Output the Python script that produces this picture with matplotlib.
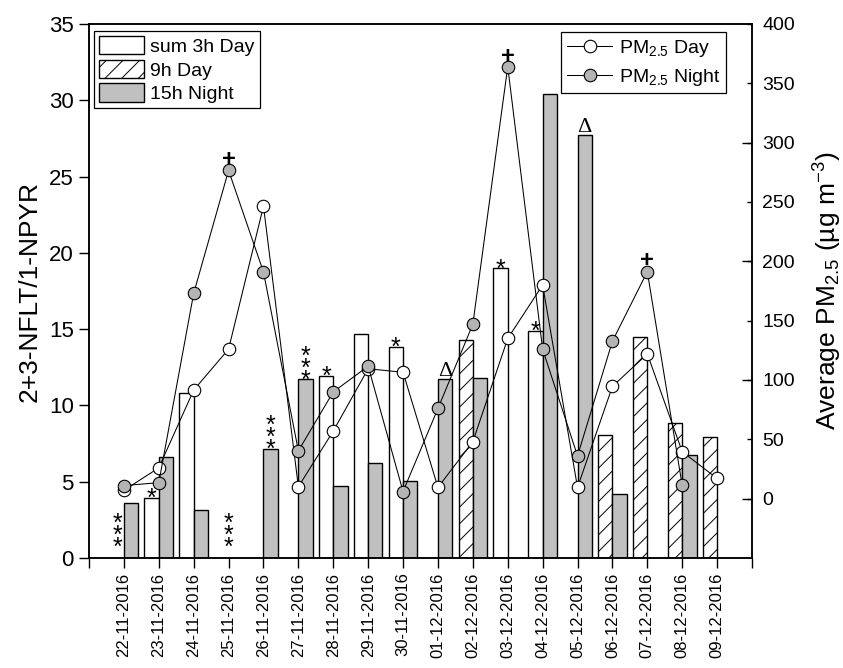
import numpy as np
import matplotlib
matplotlib.use("Agg")
import matplotlib.pyplot as plt

plt.rcParams['font.family'] = ['Liberation Sans', 'DejaVu Sans']
plt.rcParams['mathtext.fontset'] = 'custom'
plt.rcParams['mathtext.rm'] = 'Liberation Sans'
plt.rcParams['mathtext.it'] = 'Liberation Sans:italic'
plt.rcParams['mathtext.default'] = 'regular'
plt.rcParams['hatch.linewidth'] = 0.7

nan = np.nan
dates = ['22-11-2016', '23-11-2016', '24-11-2016', '25-11-2016', '26-11-2016',
         '27-11-2016', '28-11-2016', '29-11-2016', '30-11-2016', '01-12-2016',
         '02-12-2016', '03-12-2016', '04-12-2016', '05-12-2016', '06-12-2016',
         '07-12-2016', '08-12-2016', '09-12-2016']
sum3h_day = [nan, 3.93, 10.8, nan, nan, nan, 11.94, 14.7, 13.84, nan,
             nan, 19.0, 14.9, nan, nan, nan, nan, nan]
day_9h = [nan, nan, nan, nan, nan, nan, nan, nan, nan, nan,
          14.3, nan, nan, nan, 8.04, 14.47, 8.87, 7.93]
night_15h = [3.58, 6.62, 3.16, nan, 7.14, 11.7, 4.71, 6.2, 5.03, 11.7,
             11.78, nan, 30.44, 27.7, 4.2, nan, 6.77, nan]
pm_day = [7, 26, 91.5, 126, 246.5, 10, 57, 109.5, 106.5, 9.5,
          48, 135, 180, 9.5, 94.6, 122, 39.6, 17]
pm_night = [11, 13.5, 173, 276.6, 191, 40.3, 90, 111.6, 6, 76,
            147, 364, 126, 36, 132.7, 191.3, 11.1, nan]

sig3_day = ['22-11-2016', '25-11-2016']
sig3_night = ['26-11-2016', '27-11-2016']
sig1_day = ['23-11-2016', '28-11-2016', '30-11-2016', '03-12-2016', '04-12-2016']
delta_night = ['01-12-2016', '05-12-2016']
plus_pm_night = ['25-11-2016', '03-12-2016', '07-12-2016']

x = np.arange(1, len(dates) + 1)
sum3h_day = np.array(sum3h_day, float)
day_9h = np.array(day_9h, float)
night_15h = np.array(night_15h, float)
pm_day = np.array(pm_day, float)
pm_night = np.array(pm_night, float)

fig = plt.figure(figsize=(8.43, 6.68), dpi=100)
ax = fig.add_axes([89 / 843, 1 - 558 / 668, 663 / 843, 534 / 668])
ax2 = ax.twinx()

W = 0.41
grey = '#c0c0c0'
m1 = ~np.isnan(sum3h_day)
b1 = ax.bar(x[m1], sum3h_day[m1], width=-W, align='edge', color='white',
            edgecolor='black', linewidth=1.0, label='sum 3h Day')
m2 = ~np.isnan(day_9h)
b2 = ax.bar(x[m2], day_9h[m2], width=-W, align='edge', color='white',
            edgecolor='black', linewidth=1.0, hatch='//', label='9h Day')
m3 = ~np.isnan(night_15h)
b3 = ax.bar(x[m3], night_15h[m3], width=W, align='edge', color=grey,
            edgecolor='black', linewidth=1.0, label='15h Night')

l1, = ax2.plot(x, pm_day, '-o', color='black', lw=0.75, ms=9, mfc='white',
               mec='black', mew=0.8, label='PM$_{2.5}$ Day')
l2, = ax2.plot(x, pm_night, '-o', color='black', lw=0.75, ms=9, mfc='#b4b4b4',
               mec='black', mew=0.8, label='PM$_{2.5}$ Night')

ax.set_xlim(0, 19)
ax.set_ylim(0, 35)
ax2.set_ylim(-50, 400)

ax.set_xticks(np.arange(0, 20))
ax.set_xticklabels([''] + dates + [''], rotation=90, fontsize=12)
ax.set_yticks(np.arange(0, 36, 5))
ax.tick_params(axis='y', direction='out', length=7, width=1.0, labelsize=16, pad=4)
ax.tick_params(axis='x', direction='out', length=7, width=1.0, pad=3.5)

ax2.set_yticks(np.arange(0, 401, 50))
ax2.set_yticks([0, 100, 200, 300], minor=True)
ax2.yaxis.remove_overlapping_locs = False
ax2.tick_params(axis='y', which='major', direction='in', length=3.6, width=1.0,
                labelsize=14, pad=7.5)
ax2.tick_params(axis='y', which='minor', direction='in', length=7.2, width=1.0)

for a in (ax, ax2):
    for s in a.spines.values():
        s.set_linewidth(1.1)

ax.set_ylabel('2+3-NFLT/1-NPYR', fontsize=19)
ax.yaxis.set_label_coords(-0.071, 0.5)
ax2.set_ylabel('Average PM$_{2.5}$ (µg m$^{-3}$)', fontsize=19)
ax2.yaxis.set_label_coords(1.09, 0.5)

idx = {d: i for i, d in enumerate(dates)}
STAR_FS = 18


def star_stack(xp, yv, n, base_px=2.0):
    off = base_px * 0.72 - 0.65 * STAR_FS
    ax.annotate('\n'.join(['*'] * n), xy=(xp, yv), xytext=(0, off),
                textcoords='offset points', ha='center', va='bottom',
                fontsize=STAR_FS, linespacing=0.37, multialignment='center')


for d in sig3_day:
    i = idx[d]
    dx = -0.18 if d == '22-11-2016' else 0.0
    star_stack(x[i] + dx, 0, 3, base_px=14)
for d in sig3_night:
    i = idx[d]
    star_stack(x[i] + W / 2, night_15h[i], 3, base_px=3)
for d in sig1_day:
    i = idx[d]
    star_stack(x[i] - W / 2, sum3h_day[i], 1, base_px=3)
for d in delta_night:
    i = idx[d]
    ax.annotate('Δ', xy=(x[i] + W / 2, night_15h[i]), xytext=(0, 2.2),
                textcoords='offset points', ha='center', va='baseline',
                fontsize=16, family=['Liberation Serif', 'DejaVu Serif'])
for d in plus_pm_night:
    i = idx[d]
    ax2.annotate('+', xy=(x[i], pm_night[i]), xytext=(0, 3.0),
                 textcoords='offset points', ha='center', va='baseline',
                 fontsize=17, fontweight='bold')

leg1 = ax2.legend(handles=[b1, b2, b3], loc='upper left',
                  bbox_to_anchor=(0.0075, 0.987), borderaxespad=0,
                  fontsize=14, frameon=True, fancybox=False, framealpha=1,
                  edgecolor='black', handlelength=2.3, handleheight=1.1,
                  labelspacing=0.2, handletextpad=0.35, borderpad=0.25)
leg1.get_frame().set_linewidth(0.9)
ax2.add_artist(leg1)
leg2 = ax2.legend(handles=[l1, l2], loc='upper right',
                  bbox_to_anchor=(0.961, 0.985), borderaxespad=0,
                  fontsize=14, frameon=True, fancybox=False, framealpha=1,
                  edgecolor='black', handlelength=2.3,
                  labelspacing=0.4, handletextpad=0.35, borderpad=0.3)
leg2.get_frame().set_linewidth(0.9)

fig.savefig('out.png', dpi=100)
